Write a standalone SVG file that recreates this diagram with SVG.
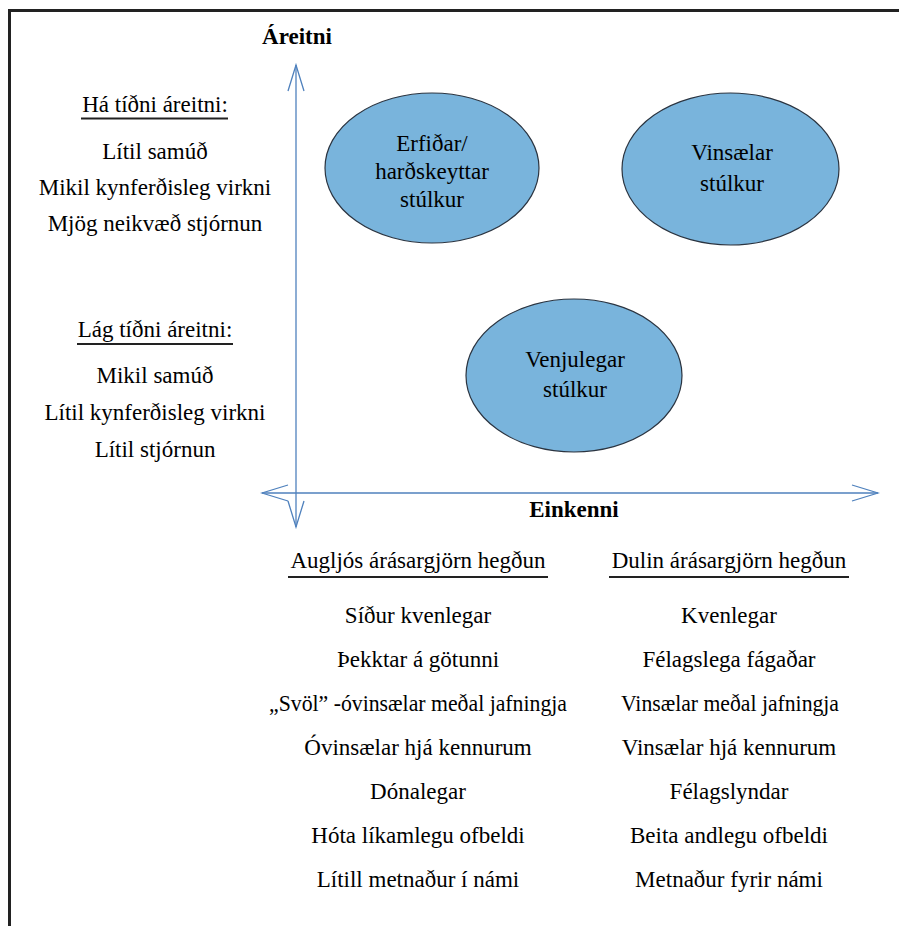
<svg xmlns="http://www.w3.org/2000/svg" width="899" height="926" viewBox="0 0 899 926" font-family="'Liberation Serif', 'Times New Roman', Times, serif">
<style>
  text { font-family: "Liberation Serif", "Times New Roman", Times, serif; font-size: 23px; fill: #000; text-anchor: middle; }
  .b { font-weight: bold; }
  .ul { stroke: #222; stroke-width: 2; }
  .node ellipse { fill: #79b4dc; stroke: #2b3440; stroke-width: 1.2; }
  .axis { stroke: #4f81bd; stroke-width: 1.3; fill: none; }
  .frame { stroke: #222; stroke-width: 3; fill: none; }
</style>
<defs>
  <marker id="arr" viewBox="-30 -11 32 22" markerWidth="32" markerHeight="22" refX="0" refY="0" orient="auto-start-reverse" markerUnits="userSpaceOnUse">
    <path d="M-26,-8 L0,0 L-26,8" fill="none" stroke="#4f81bd" stroke-width="1.3"/>
  </marker>
</defs>
<rect width="899" height="926" fill="#fff"/>
<path class="frame" d="M9.5,926 L9.5,10.5 L899,10.5"/>

<g id="connectors">
  <line class="axis" x1="296" y1="65" x2="296" y2="527" marker-start="url(#arr)" marker-end="url(#arr)"/>
  <line class="axis" x1="262" y1="493" x2="878" y2="493" marker-start="url(#arr)" marker-end="url(#arr)"/>
</g>

<g id="axis-labels">
  <text class="b" x="297" y="44">Áreitni</text>
  <text class="b" x="574" y="517">Einkenni</text>
</g>

<g id="high-freq">
  <text x="155" y="112">Há tíðni áreitni:</text>
  <line class="ul" x1="81" y1="118.5" x2="228" y2="118.5"/>
  <text x="155" y="159">Lítil samúð</text>
  <text x="155" y="195">Mikil kynferðisleg virkni</text>
  <text x="155" y="231">Mjög neikvæð stjórnun</text>
</g>

<g id="low-freq">
  <text x="155" y="337">Lág tíðni áreitni:</text>
  <line class="ul" x1="77" y1="344" x2="233" y2="344"/>
  <text x="155" y="383">Mikil samúð</text>
  <text x="155" y="420">Lítil kynferðisleg virkni</text>
  <text x="155" y="457">Lítil stjórnun</text>
</g>

<g id="node-erfidar" class="node">
  <ellipse cx="432" cy="168" rx="107" ry="75"/>
  <text x="432" y="151">Erfiðar/</text>
  <text x="432" y="179">harðskeyttar</text>
  <text x="432" y="207">stúlkur</text>
</g>

<g id="node-vinsaelar" class="node">
  <ellipse cx="730.5" cy="169" rx="108.5" ry="76"/>
  <text x="732" y="160">Vinsælar</text>
  <text x="732" y="191">stúlkur</text>
</g>

<g id="node-venjulegar" class="node">
  <ellipse cx="574" cy="375.5" rx="108" ry="76.5"/>
  <text x="575" y="367">Venjulegar</text>
  <text x="575" y="397">stúlkur</text>
</g>

<g id="overt">
  <text x="418" y="568">Augljós árásargjörn hegðun</text>
  <line class="ul" x1="288" y1="577" x2="548" y2="577"/>
  <text x="418" y="623">Síður kvenlegar</text>
  <text x="418" y="667">Þekktar á götunni</text>
  <text x="418" y="711" textLength="298" lengthAdjust="spacingAndGlyphs">„Svöl” -óvinsælar meðal jafningja</text>
  <text x="418" y="755">Óvinsælar hjá kennurum</text>
  <text x="418" y="799">Dónalegar</text>
  <text x="418" y="843">Hóta líkamlegu ofbeldi</text>
  <text x="418" y="887">Lítill metnaður í námi</text>
</g>

<g id="covert">
  <text x="729" y="568">Dulin árásargjörn hegðun</text>
  <line class="ul" x1="609" y1="577" x2="849" y2="577"/>
  <text x="729" y="623">Kvenlegar</text>
  <text x="729" y="667">Félagslega fágaðar</text>
  <text x="730" y="711" textLength="218" lengthAdjust="spacingAndGlyphs">Vinsælar meðal jafningja</text>
  <text x="729" y="755">Vinsælar hjá kennurum</text>
  <text x="729" y="799">Félagslyndar</text>
  <text x="729" y="843">Beita andlegu ofbeldi</text>
  <text x="729" y="887">Metnaður fyrir námi</text>
</g>
</svg>
